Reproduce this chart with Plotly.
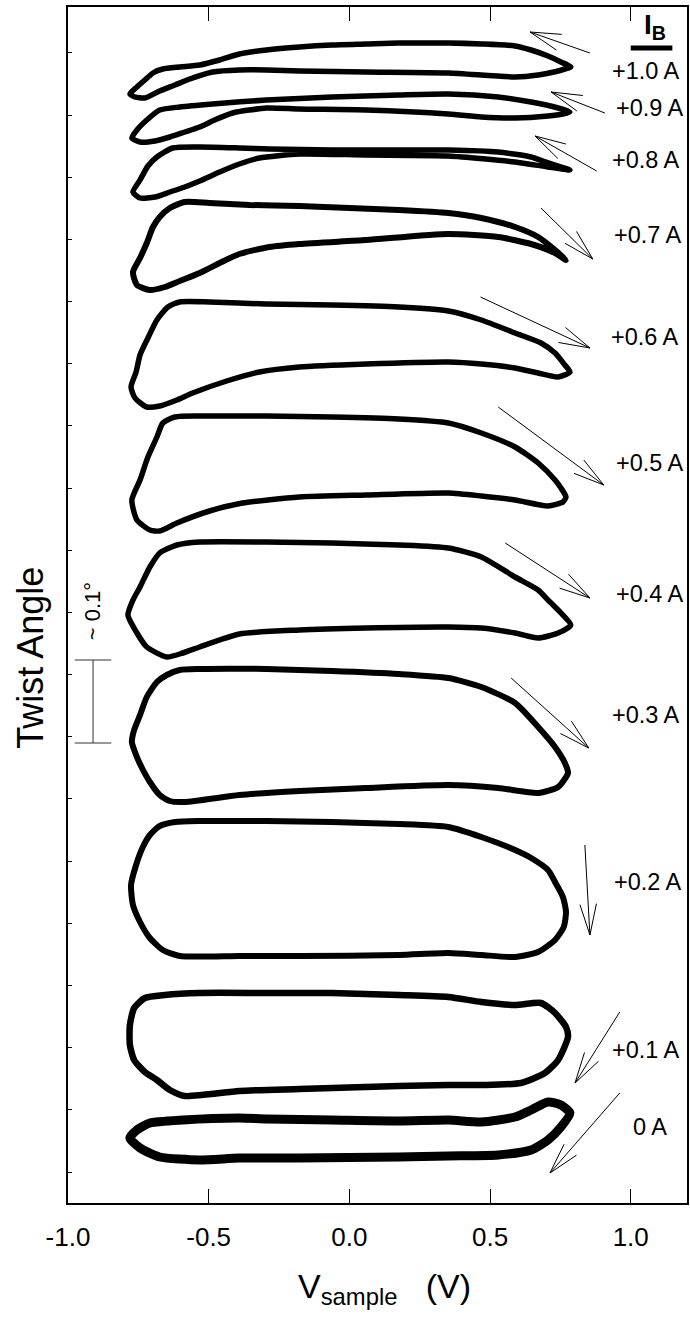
import math
import plotly.graph_objects as go

# Twist angle versus sample voltage, one hysteresis loop per bias current I_B.
# Voltage in V, twist angle in arbitrary units (each loop carries its own offset).

v_p10 = [0.787, 0.752, 0.706, 0.646, 0.589, 0.469, 0.352, 0.176, 0.059, -0.062, -0.178, -0.295, -0.391,
         -0.461, -0.532, -0.603, -0.663, -0.698, -0.727, -0.755, -0.780, -0.762, -0.727, -0.674, -0.620,
         -0.567, -0.486, -0.391, -0.295, -0.178, 0.059, 0.352, 0.589, 0.671, 0.727, 0.766, 0.787]
t_p10 = [1136, 1141, 1147, 1153, 1157, 1159, 1160, 1160, 1159, 1158, 1156, 1153, 1149, 1143, 1138, 1136,
         1134, 1130, 1123, 1116, 1109, 1106, 1105, 1112, 1118, 1124, 1131, 1133, 1133, 1132, 1131, 1130,
         1126, 1128, 1131, 1134, 1136]

v_p09 = [0.784, 0.742, 0.646, 0.529, 0.352, 0.176, -0.062, -0.295, -0.486, -0.603, -0.674, -0.720, -0.755,
         -0.773, -0.744, -0.691, -0.638, -0.585, -0.532, -0.479, -0.415, -0.295, -0.178, 0.059, 0.352,
         0.469, 0.589, 0.706, 0.759, 0.784]
t_p09 = [1091, 1095, 1101, 1106, 1109, 1108, 1106, 1103, 1099, 1096, 1093, 1083, 1073, 1065, 1061, 1062,
         1066, 1071, 1076, 1083, 1090, 1095, 1094, 1093, 1089, 1086, 1085, 1087, 1089, 1091]

v_p08 = [0.784, 0.742, 0.688, 0.646, 0.529, 0.352, 0.176, -0.062, -0.284, -0.391, -0.532, -0.628, -0.684,
         -0.716, -0.744, -0.769, -0.744, -0.691, -0.638, -0.585, -0.532, -0.461, -0.391, -0.320, -0.178,
         0.059, 0.352, 0.589, 0.706, 0.784]
t_p08 = [1033, 1037, 1042, 1046, 1051, 1053, 1053, 1053, 1054, 1055, 1056, 1055, 1046, 1037, 1023, 1011,
         1005, 1006, 1011, 1016, 1022, 1031, 1039, 1045, 1049, 1048, 1047, 1041, 1036, 1033]

v_p07 = [0.770, 0.731, 0.671, 0.589, 0.469, 0.352, 0.176, 0.000, -0.178, -0.355, -0.497, -0.585, -0.638,
         -0.674, -0.698, -0.720, -0.744, -0.769, -0.755, -0.709, -0.656, -0.603, -0.532, -0.461, -0.391,
         -0.284, -0.178, 0.059, 0.352, 0.529, 0.646, 0.731, 0.770]
t_p07 = [943, 953, 966, 976, 985, 990, 993, 995, 997, 998, 1000, 1001, 995, 986, 976, 960, 945, 931, 918,
         913, 916, 922, 930, 940, 949, 956, 959, 963, 969, 966, 959, 950, 943]

v_p06 = [0.784, 0.766, 0.731, 0.681, 0.589, 0.469, 0.352, 0.176, -0.062, -0.295, -0.497, -0.603, -0.645,
         -0.684, -0.716, -0.744, -0.758, -0.776, -0.762, -0.720, -0.674, -0.613, -0.557, -0.436, -0.320,
         -0.178, 0.059, 0.352, 0.469, 0.589, 0.671, 0.742, 0.784]
t_p06 = [831, 838, 850, 860, 870, 883, 892, 896, 898, 899, 901, 901, 896, 883, 865, 848, 831, 816, 805,
         796, 797, 803, 810, 822, 831, 836, 839, 841, 839, 835, 830, 826, 831]

v_p05 = [0.770, 0.752, 0.731, 0.671, 0.589, 0.469, 0.352, 0.176, -0.062, -0.295, -0.532, -0.620, -0.663,
         -0.684, -0.716, -0.744, -0.773, -0.755, -0.709, -0.674, -0.613, -0.497, -0.380, -0.178, 0.059,
         0.352, 0.469, 0.589, 0.706, 0.759, 0.770]
t_p05 = [706, 715, 723, 740, 756, 770, 780, 784, 786, 787, 787, 786, 780, 766, 746, 723, 703, 683, 673,
         672, 680, 692, 700, 706, 708, 710, 707, 703, 697, 701, 706]

v_p04 = [0.787, 0.752, 0.706, 0.671, 0.589, 0.469, 0.352, 0.176, -0.062, -0.295, -0.532, -0.613, -0.674,
         -0.709, -0.744, -0.769, -0.787, -0.755, -0.720, -0.649, -0.592, -0.532, -0.391, -0.178, 0.059,
         0.352, 0.469, 0.589, 0.671, 0.742, 0.787]
t_p04 = [578, 590, 603, 613, 626, 646, 655, 658, 660, 661, 661, 658, 650, 636, 616, 603, 588, 570, 556,
         546, 550, 556, 569, 573, 575, 576, 575, 570, 565, 570, 578]

v_p03 = [0.777, 0.766, 0.731, 0.671, 0.589, 0.469, 0.352, 0.176, -0.062, -0.295, -0.532, -0.603, -0.649,
         -0.684, -0.720, -0.744, -0.765, -0.773, -0.758, -0.737, -0.709, -0.674, -0.638, -0.585, -0.391,
         -0.178, 0.059, 0.352, 0.529, 0.671, 0.742, 0.777]
t_p03 = [430, 440, 456, 476, 500, 516, 525, 529, 532, 534, 534, 533, 528, 521, 506, 488, 473, 461, 448,
         435, 421, 408, 402, 401, 408, 412, 415, 418, 415, 410, 416, 430]

v_p02 = [0.770, 0.759, 0.731, 0.706, 0.646, 0.589, 0.469, 0.352, 0.176, -0.062, -0.295, -0.532, -0.620,
         -0.674, -0.709, -0.734, -0.758, -0.776, -0.769, -0.744, -0.709, -0.663, -0.603, -0.391, -0.178,
         0.176, 0.352, 0.469, 0.589, 0.671, 0.731, 0.762, 0.770]
t_p02 = [291, 306, 321, 333, 345, 353, 366, 376, 379, 381, 382, 382, 381, 377, 368, 356, 338, 318, 298,
         281, 265, 253, 247, 247, 247, 248, 250, 248, 246, 251, 263, 276, 291]

v_p01 = [0.777, 0.770, 0.731, 0.681, 0.589, 0.469, 0.352, 0.176, -0.062, -0.295, -0.532, -0.656, -0.727,
         -0.765, -0.780, -0.780, -0.765, -0.727, -0.684, -0.638, -0.585, -0.391, -0.178, 0.176, 0.352,
         0.469, 0.610, 0.695, 0.742, 0.777]
t_p01 = [166, 176, 190, 200, 198, 201, 206, 208, 210, 210, 210, 208, 205, 195, 178, 158, 143, 131, 123,
         113, 107, 112, 114, 117, 118, 118, 120, 130, 143, 166]

v_p00 = [0.784, 0.752, 0.706, 0.646, 0.589, 0.469, 0.352, 0.176, -0.062, -0.295, -0.391, -0.592, -0.709,
         -0.755, -0.780, -0.744, -0.674, -0.532, -0.391, -0.178, 0.176, 0.352, 0.529, 0.646, 0.706, 0.752,
         0.784]
t_p00 = [90, 98, 101, 93, 86, 81, 83, 82, 83, 84, 85, 83, 80, 73, 65, 55, 46, 43, 45, 45, 46, 47, 48, 53,
         63, 76, 90]

# bias-current labels and where they sit
current_labels = ["+1.0 A", "+0.9 A", "+0.8 A", "+0.7 A", "+0.6 A", "+0.5 A",
                  "+0.4 A", "+0.3 A", "+0.2 A", "+0.1 A", "0 A"]
label_v = [1.053, 1.067, 1.053, 1.060, 1.049, 1.067, 1.067, 1.053, 1.060, 1.053, 1.067]
label_t = [1132, 1095, 1043, 968, 866, 740, 609, 488, 321, 153, 76]

# sweep-direction arrows: tail -> tip
arrow_tail_v = [0.855, 0.908, 0.879, 0.681, 0.466, 0.529, 0.554, 0.575, 0.837, 0.961, 0.961]
arrow_tail_t = [1150, 1090, 1032, 995, 906, 796, 660, 525, 358, 191, 110]
arrow_tip_v = [0.642, 0.717, 0.660, 0.865, 0.855, 0.904, 0.855, 0.851, 0.855, 0.802, 0.713]
arrow_tip_t = [1171, 1111, 1067, 944, 855, 718, 605, 455, 268, 120, 30]

# scale bar for ~0.1 degree
scale_v = -0.911
scale_t = [460, 543]
scale_cap = 0.065

x_range = [-1.0, 1.2]
y_range = [0, 1196]
x_ticks = [-1.0, -0.5, 0.0, 0.5, 1.0]
x_ticktext = ["-1.0", "-0.5", "0.0", "0.5", "1.0"]

W, H = 690, 1321
M = dict(l=68, r=1, t=7, b=118)
plot_w = W - M["l"] - M["r"]
plot_h = H - M["t"] - M["b"]
px_per_v = plot_w / (x_range[1] - x_range[0])
px_per_t = plot_h / (y_range[1] - y_range[0])

loops = [
    (v_p10, t_p10, 5.5), (v_p09, t_p09, 5.5), (v_p08, t_p08, 5.5), (v_p07, t_p07, 6),
    (v_p06, t_p06, 5.5), (v_p05, t_p05, 5.5), (v_p04, t_p04, 5.5), (v_p03, t_p03, 6),
    (v_p02, t_p02, 6), (v_p01, t_p01, 6.5), (v_p00, t_p00, 9),
]

FONT = "Arial, Liberation Sans, Helvetica, sans-serif"
fig = go.Figure()

for vx, ty, lw in loops:
    fig.add_trace(go.Scatter(
        x=vx, y=ty, mode="lines",
        line=dict(color="black", width=lw, shape="spline", smoothing=0.6),
        hoverinfo="skip", showlegend=False,
    ))

# open-headed arrows: shaft plus two barbs, barbs built in screen space
barb_len = 32.0
barb_ang = math.radians(15)
ax, ay = [], []
for tv, tt, hv, ht in zip(arrow_tail_v, arrow_tail_t, arrow_tip_v, arrow_tip_t):
    ax += [tv, hv, None]
    ay += [tt, ht, None]
    dx = (tv - hv) * px_per_v
    dy = (tt - ht) * px_per_t
    n = math.hypot(dx, dy)
    ux, uy = dx / n, dy / n
    for s in (1, -1):
        c, si = math.cos(s * barb_ang), math.sin(s * barb_ang)
        bx = ux * c - uy * si
        by = ux * si + uy * c
        ax += [hv, hv + bx * barb_len / px_per_v, None]
        ay += [ht, ht + by * barb_len / px_per_t, None]
fig.add_trace(go.Scatter(x=ax, y=ay, mode="lines", line=dict(color="black", width=1),
                         hoverinfo="skip", showlegend=False))

# scale bar
sx = [scale_v - scale_cap, scale_v + scale_cap, None, scale_v, scale_v, None,
      scale_v - scale_cap, scale_v + scale_cap]
sy = [scale_t[1], scale_t[1], None, scale_t[1], scale_t[0], None, scale_t[0], scale_t[0]]
fig.add_trace(go.Scatter(x=sx, y=sy, mode="lines", line=dict(color="#333", width=1),
                         hoverinfo="skip", showlegend=False))

annotations = []
for txt, lv, lt in zip(current_labels, label_v, label_t):
    annotations.append(dict(x=lv, y=lt, xref="x", yref="y", text=txt, showarrow=False,
                            xanchor="center", yanchor="middle",
                            font=dict(family=FONT, size=23.5, color="black")))

annotations.append(dict(x=scale_v - 0.003, y=592, xref="x", yref="y", text="~ 0.1°",
                        textangle=-90, showarrow=False, xanchor="center", yanchor="middle",
                        font=dict(family=FONT, size=22, color="black")))

annotations.append(dict(x=1.085, y=1177, xref="x", yref="y", text="<b>I<sub>B</sub></b>",
                        showarrow=False, xanchor="center", yanchor="middle",
                        font=dict(family=FONT, size=28, color="black")))

annotations.append(dict(x=-0.061, y=0.456, xref="paper", yref="paper", text="Twist Angle",
                        textangle=-90, showarrow=False, xanchor="center", yanchor="middle",
                        font=dict(family=FONT, size=36, color="black")))

annotations.append(dict(x=0.511, y=-0.052, xref="paper", yref="paper",
                        text="V<sub>sample</sub>&nbsp;&nbsp;&nbsp;(V)",
                        showarrow=False, xanchor="center", yanchor="top",
                        font=dict(family=FONT, size=34, color="black")))

fig.update_layout(
    width=W, height=H, margin=M,
    paper_bgcolor="white", plot_bgcolor="white",
    annotations=annotations,
    shapes=[dict(type="line", xref="x", yref="y", x0=1.000, x1=1.148, y0=1155, y1=1155,
                 line=dict(color="black", width=5))],
    xaxis=dict(range=x_range, tickvals=x_ticks, ticktext=x_ticktext,
               ticks="inside", ticklen=14, tickwidth=1.2, tickcolor="black",
               showline=True, linecolor="black", linewidth=1.5, mirror="ticks",
               showgrid=False, zeroline=False, ticklabelstandoff=10,
               tickfont=dict(family=FONT, size=26, color="black")),
    yaxis=dict(range=y_range, tick0=31, dtick=62.17,
               ticks="inside", ticklen=4, tickwidth=1, tickcolor="black",
               showticklabels=False, showline=True, linecolor="black", linewidth=1.5,
               mirror=True, showgrid=False, zeroline=False),
)

fig.write_html("out.html")
